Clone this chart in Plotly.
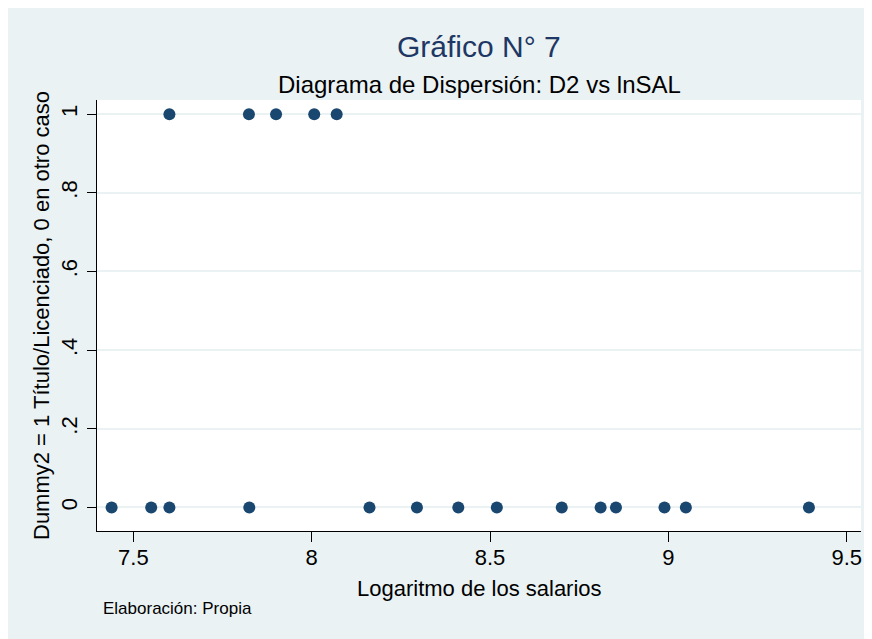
import plotly.graph_objects as go

# Data
lnsal_d0 = [7.439, 7.550, 7.601, 7.825, 8.162, 8.295, 8.411, 8.519, 8.701, 8.810, 8.853, 8.989, 9.049, 9.394]
lnsal_d1 = [7.601, 7.824, 7.900, 8.007, 8.070]
lnsal = lnsal_d0 + lnsal_d1
d2 = [0] * len(lnsal_d0) + [1] * len(lnsal_d1)

x_ticks = [7.5, 8, 8.5, 9, 9.5]
x_tick_text = ["7.5", "8", "8.5", "9", "9.5"]
y_ticks = [0, 0.2, 0.4, 0.6, 0.8, 1]
y_tick_text = ["0", ".2", ".4", ".6", ".8", "1"]

title = "Gráfico N° 7"
subtitle = "Diagrama de Dispersión: D2 vs lnSAL"
xtitle = "Logaritmo de los salarios"
ytitle = "Dummy2 = 1 Título/Licenciado, 0 en otro caso"
note = "Elaboración: Propia"

OFF = 8  # page body margin
W, H = 872, 639
L, R, T, B = 97 - OFF, W - (861 - OFF), 100 - OFF, H - (531 - OFF)
pw, ph = W - L - R, H - T - B

def px(xp):
    return (xp - OFF - L) / pw

def py(yp):
    return (H - B - (yp - OFF)) / ph

FONT = "Liberation Sans, Arial, sans-serif"
BG = "#EAF2F3"

fig = go.Figure()
fig.add_trace(go.Scatter(
    x=lnsal, y=d2, mode="markers",
    marker=dict(size=12, color="#1A476F", line=dict(width=0)),
    showlegend=False, hoverinfo="x+y"))

fig.update_layout(
    width=W, height=H,
    margin=dict(l=L, r=R, t=T, b=B, pad=0, autoexpand=False),
    paper_bgcolor=BG, plot_bgcolor="white",
    font=dict(family=FONT, size=22, color="black"),
    xaxis=dict(range=[7.398, 9.540], tickvals=x_ticks, ticktext=x_tick_text,
               showgrid=False, zeroline=False, showline=True, linecolor="black",
               linewidth=1, ticks="outside", ticklen=10, tickcolor="black",
               automargin=False, ticklabelstandoff=-3,
               tickfont=dict(size=22, color="black")),
    yaxis=dict(range=[-0.060, 1.036], tickvals=y_ticks, ticktext=y_tick_text,
               showgrid=True, gridcolor=BG, gridwidth=1.5, zeroline=False,
               showline=True, linecolor="black", linewidth=1, ticks="outside",
               ticklen=9, tickcolor="black", tickangle=-90, automargin=False,
               ticklabelstandoff=1,
               tickfont=dict(size=22, color="black")),
    annotations=[
        dict(text=title, xref="paper", yref="paper", x=px(479), y=py(47),
             xanchor="center", yanchor="middle", showarrow=False,
             font=dict(size=30, color="#1E3764")),
        dict(text=subtitle, xref="paper", yref="paper", x=px(479), y=py(85),
             xanchor="center", yanchor="middle", showarrow=False,
             font=dict(size=24, color="black")),
        dict(text=xtitle, xref="paper", yref="paper", x=px(479), y=py(588),
             xanchor="center", yanchor="middle", showarrow=False,
             font=dict(size=22, color="black")),
        dict(text=ytitle, xref="paper", yref="paper", x=px(41), y=py(316),
             xanchor="center", yanchor="middle", showarrow=False, textangle=-90,
             font=dict(size=22, color="black")),
        dict(text=note, xref="paper", yref="paper", x=px(101), y=py(608),
             xanchor="left", yanchor="middle", showarrow=False,
             font=dict(size=17, color="black")),
    ],
)

fig.write_html("out.html")
